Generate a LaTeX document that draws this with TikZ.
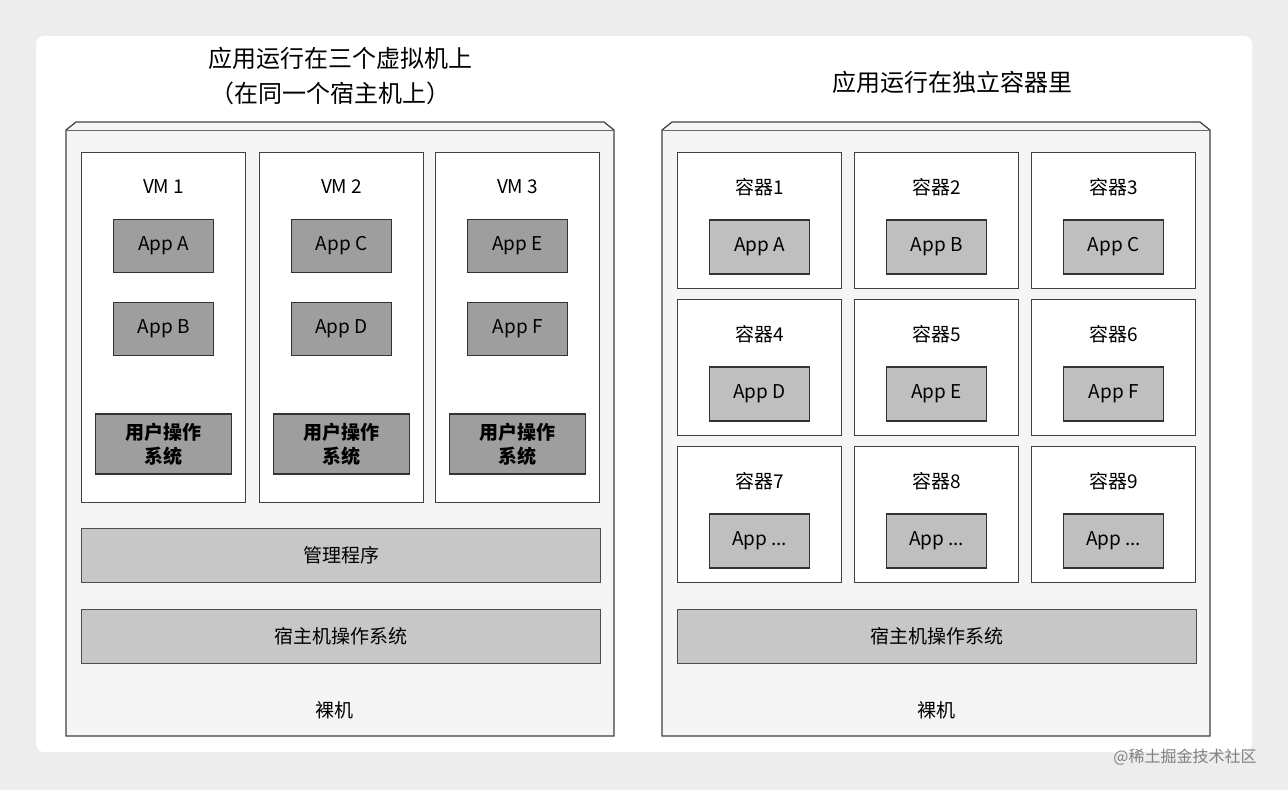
\documentclass[tikz,border=0pt]{standalone}
\usepackage{fontspec}
\setmainfont{Noto Sans CJK SC}
\begin{document}
\begin{tikzpicture}[x=1pt,y=-1pt,
 box/.style={draw=black!75,line width=1.2pt,fill=white},
 appl/.style={draw=black!80,line width=1.2pt,fill=black!38,font=\fontsize{19}{19}\selectfont,inner sep=0},
 appr/.style={draw=black!80,line width=1.2pt,fill=black!25,font=\fontsize{19}{19}\selectfont,inner sep=0},
 bar/.style={draw=black!70,line width=1.2pt,fill=black!22,font=\fontsize{19}{19}\selectfont,inner sep=0},
 lbl/.style={font=\fontsize{19}{19}\selectfont},
 ttl/.style={font=\fontsize{24}{24}\selectfont}]
\fill[black!7] (0,0) rectangle (1288,790);
\fill[white,rounded corners=8] (36,36) rectangle (1252,752);
\useasboundingbox (0,0) rectangle (1288,790);
\node[ttl] (t1) at (340,58) {应用运行在三个虚拟机上};
\node[ttl] (t2) at (330,93) {（在同一个宿主机上）};
\node[ttl] (t3) at (952,82) {应用运行在独立容器里};
% left frame
\draw[box,fill=black!4] (66,130) -- (76,122) -- (604,122) -- (614,130) -- (614,736) -- (66,736) -- cycle;
\draw[black!60] (66,130) -- (614,130);
\foreach \i/\a/\b/\x in {1/A/B/81,2/C/D/259,3/E/F/435}{
 \node[box,minimum width=164,minimum height=350,anchor=north west] (vm\i) at (\x,152) {};
 \node[lbl] (vml\i) at ([yshift=-35]vm\i.north) {VM \i};
 \node[appl,minimum width=100,minimum height=53] (ap\i a) at ([yshift=-94]vm\i.north) {App \a};
 \node[appl,minimum width=100,minimum height=53] (ap\i b) at ([yshift=-177]vm\i.north) {App \b};
 \node[appl,minimum width=136,minimum height=60,align=center,font=\bfseries\fontsize{19}{24}\selectfont] (os\i) at ([yshift=-292]vm\i.north) {用户操作\\系统};
}
\node[bar,minimum width=519,minimum height=54,anchor=north west] (hyp) at (81,528) {管理程序};
\node[bar,minimum width=519,minimum height=54,anchor=north west] (hos) at (81,609) {宿主机操作系统};
\node[lbl] (bm1) at (334,710) {裸机};
% right frame
\draw[box,fill=black!4] (662,130) -- (672,122) -- (1200,122) -- (1210,130) -- (1210,736) -- (662,736) -- cycle;
\draw[black!60] (662,130) -- (1210,130);
\foreach \n/\x/\y/\ap in {1/677/152/A,2/854/152/B,3/1031/152/C,4/677/299/D,5/854/299/E,6/1031/299/F,7/677/446/{...},8/854/446/{...},9/1031/446/{...}}{
 \node[box,minimum width=164,minimum height=136,anchor=north west] (c\n) at (\x,\y) {};
 \node[lbl] (cl\n) at ([yshift=-35]c\n.north) {容器\n};
 \node[appr,minimum width=100,minimum height=54] (ca\n) at ([yshift=-95]c\n.north) {App \ap};
}
\node[bar,minimum width=519,minimum height=54,anchor=north west] (hos2) at (677,609) {宿主机操作系统};
\node[lbl] (bm2) at (936,710) {裸机};
\node[text=black!50,font=\fontsize{16}{16}\selectfont] (wm) at (1185,757) {@稀土掘金技术社区};
\end{tikzpicture}
\end{document}
